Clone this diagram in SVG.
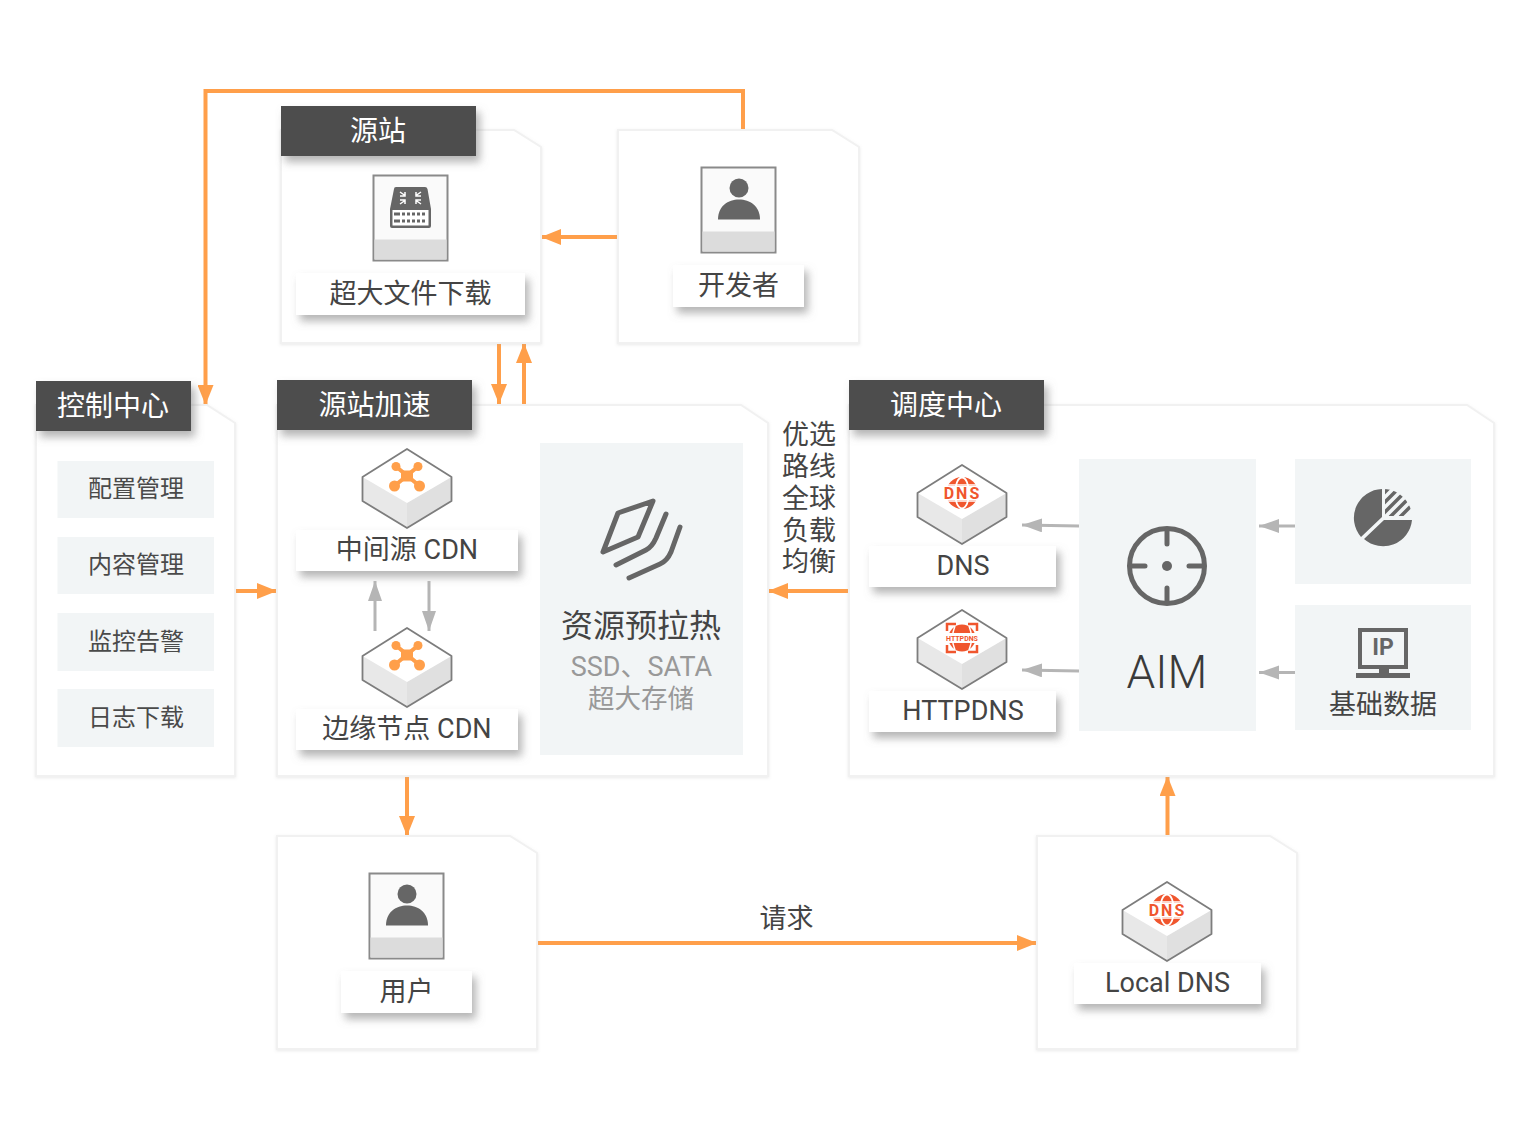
<svg xmlns="http://www.w3.org/2000/svg" width="1530" height="1140" viewBox="0 0 1530 1140">
<style>
text{font-family:Roboto,"Noto Sans CJK SC",sans-serif;text-anchor:middle;fill:#444;font-weight:400}
.panel{fill:#fff;stroke:#f1f1f1;stroke-width:2;filter:url(#ps)}
.head{fill:#4d4d4d;filter:url(#ls)}
.headt{fill:#fff;font-size:28px}
.lab{fill:#fff;filter:url(#ls)}
.t27{font-size:27px}
.t24{font-size:24px;fill:#4a4a4a}
.box{fill:#f2f5f6}
.o{fill:none;stroke:#ff9f4a;stroke-width:4;marker-end:url(#ao)}
.g{fill:none;stroke:#b5b5b5;stroke-width:3;marker-end:url(#ag)}
.ic{fill:none;stroke:#666;stroke-width:5;stroke-linecap:round;stroke-linejoin:round}
.fg{fill:#666}
.dns{fill:#f0562e}
</style>
<defs>
<filter id="ls" x="-20%" y="-40%" width="140%" height="190%"><feDropShadow dx="4" dy="6" stdDeviation="4" flood-color="#777" flood-opacity=".55"/></filter>
<filter id="ps" x="-5%" y="-5%" width="110%" height="110%"><feDropShadow dx="0" dy="1" stdDeviation="1.500" flood-color="#aaa" flood-opacity=".25"/></filter>
<marker id="ao" markerUnits="userSpaceOnUse" markerWidth="20" markerHeight="16" refX="20" refY="8" orient="auto"><path d="M0 0L20 8L0 16Z" fill="#ff9f4a"/></marker>
<marker id="ag" markerUnits="userSpaceOnUse" markerWidth="20" markerHeight="16" refX="20" refY="7" orient="auto"><path d="M0 0L20 7L0 14Z" fill="#b5b5b5"/></marker>
<g id="cube">
<path d="M0 0L44.500 28V52L0 79L-44.500 52V28Z" fill="#e8e8e8"/>
<path d="M0 54L44.500 28V52L0 79Z" fill="#e0e0e0"/>
<path d="M0 0L44.500 28L0 54L-44.500 28Z" fill="#fff"/>
<path d="M0 0L44.500 28V52L0 79L-44.500 52V28Z" fill="none" stroke="#7d7d7d" stroke-width="1.800" stroke-linejoin="round"/>
</g>
<g id="hub">
<path d="M-11 17.500L12.500 37M11 17.500L-12.500 37" stroke="#ff9f4a" stroke-width="4"/>
<rect x="-6" y="21.500" width="12" height="11" rx="2" fill="#ff9f4a"/>
<circle cx="-11" cy="17.500" r="4.500" fill="#ff9f4a"/><circle cx="11" cy="17.500" r="4.500" fill="#ff9f4a"/>
<circle cx="-12.500" cy="37" r="5.500" fill="#ff9f4a"/><circle cx="12.500" cy="37" r="5.500" fill="#ff9f4a"/>
</g>
<g id="globe">
<circle cy="28" r="16" class="dns"/>
<ellipse cy="28" rx="7" ry="15.500" fill="none" stroke="#fff" stroke-width="1.800"/>
<path d="M-15 20H15M-15 36H15" stroke="#fff" stroke-width="1.500"/>
<rect x="-18" y="21" width="36" height="14" fill="#fff"/>
</g>
<g id="doc">
<rect x=".5" y=".5" width="74" height="85" fill="#fafafa" stroke="#8a8a8a" stroke-width="2"/>
<rect x="1.500" y="64.500" width="72" height="20" fill="#dcdcdc"/>
</g>
<g id="person">
<circle cx="38" cy="21" r="9.500" class="fg"/>
<path d="M17 52.500C17 39 27 32.500 38 32.500C49 32.500 59 39 59 52.500Z" class="fg"/>
</g>
<clipPath id="hq"><path d="M1385 489A29 29 0 0 1 1412 516H1385Z"/></clipPath>
</defs>

<g id="connectors">
<path class="o" d="M743 130V91H205.500V405"/>
<path class="o" d="M618 237H541"/>
<path class="o" d="M499 343V404"/>
<path class="o" d="M524 405V343"/>
<path class="o" d="M235 591H277"/>
<path class="o" d="M849 591H768"/>
<path class="o" d="M407 776V836"/>
<path class="o" d="M537 943H1037"/>
<path class="o" d="M1167.500 836V776"/>
</g>

<g id="control-center">
<path class="panel" d="M36 405H207L235 423V776H36Z"/>
<rect class="box" x="57.500" y="461" width="156.500" height="57"/><text class="t24" x="136" y="497">配置管理</text>
<rect class="box" x="57.500" y="537" width="156.500" height="57"/><text class="t24" x="136" y="573">内容管理</text>
<rect class="box" x="57.500" y="613" width="156.500" height="58"/><text class="t24" x="136" y="650">监控告警</text>
<rect class="box" x="57.500" y="689" width="156.500" height="58"/><text class="t24" x="136" y="726">日志下载</text>
<rect class="head" x="36" y="381" width="155" height="50"/><text class="headt" x="113" y="416">控制中心</text>
</g>

<g id="origin">
<path class="panel" d="M281 130H514L541 147V343H281Z"/>
<rect class="head" x="281" y="106" width="195" height="50"/><text class="headt" x="378" y="141">源站</text>
<use href="#doc" x="373" y="175"/>
<path class="fg" d="M394 189Q394 187 396 187H425Q427 187 427.500 189L431 209V226Q431 228 429 228H392Q390 228 390 226V209Z"/>
<path d="M400 192L405 195.500M405 192V196H400M421 192L416 195.500M416 192V196H421M400 204L405 200.500M405 204V200H400M421 204L416 200.500M416 204V200H421" stroke="#fff" stroke-width="1.500" fill="none"/>
<rect x="392.500" y="210" width="36" height="15.500" fill="#fff"/>
<path d="M394 214H400M394 221H400" stroke="#666" stroke-width="3"/>
<path d="M402 214H427M402 221H427" stroke="#666" stroke-width="3" stroke-dasharray="3 2"/>
<rect class="lab" x="296" y="273" width="229" height="42"/><text class="t27" x="410.500" y="303">超大文件下载</text>
</g>

<g id="developer">
<path class="panel" d="M618 130H832L859 147V343H618Z"/>
<use href="#doc" x="701" y="167"/><use href="#person" x="701" y="167"/>
<rect class="lab" x="673" y="265" width="131" height="42"/><text class="t27" x="738.500" y="295">开发者</text>
</g>

<g id="origin-acceleration">
<path class="panel" d="M277 405H741L768 423V776H277Z"/>
<rect class="head" x="277" y="380" width="195" height="50"/><text class="headt" x="374.500" y="415">源站加速</text>
<g id="mid-cdn">
<use href="#cube" x="407" y="449"/><use href="#hub" x="407" y="449"/>
<rect class="lab" x="296" y="530" width="222" height="41"/><text class="t27" x="407" y="559">中间源 CDN</text>
</g>
<g id="edge-cdn">
<use href="#cube" x="407" y="628"/><use href="#hub" x="407" y="628"/>
<rect class="lab" x="296" y="709" width="222" height="41"/><text class="t27" x="407" y="738">边缘节点 CDN</text>
</g>
<path class="g" d="M375 631V581"/>
<path class="g" d="M429 581V631"/>
<g id="preheat">
<rect class="box" x="540" y="443" width="203" height="312"/>
<path class="ic" d="M653 501L618 513L603 552L638 537Z"/>
<path class="ic" d="M666 514L656 538Q652 547 646 550L616 565"/>
<path class="ic" d="M680 527L671 552Q667 561 660 564L629 578"/>
<text x="641" y="637" font-size="32">资源预拉热</text>
<text x="641.500" y="676" font-size="27" style="fill:#999">SSD、SATA</text>
<text x="641" y="708" font-size="26.500" style="fill:#999">超大存储</text>
</g>
</g>

<g id="balancing-label">
<text class="t27" x="809" y="444">优选</text>
<text class="t27" x="809" y="476">路线</text>
<text class="t27" x="809" y="508">全球</text>
<text class="t27" x="809" y="540">负载</text>
<text class="t27" x="809" y="571">均衡</text>
</g>

<g id="scheduling-center">
<path class="panel" d="M849 405H1467L1494 423V776H849Z"/>
<rect class="head" x="849" y="380" width="195" height="50"/><text class="headt" x="946" y="415">调度中心</text>
<g id="dns">
<use href="#cube" x="962" y="465"/><use href="#globe" x="962" y="465"/>
<text x="962.500" y="499" font-size="16" letter-spacing="2" style="fill:#f0562e;font-weight:700">DNS</text>
<rect class="lab" x="869" y="546" width="187" height="41"/><text class="t27" x="963" y="575">DNS</text>
</g>
<g id="httpdns">
<use href="#cube" x="962" y="610"/>
<circle cx="962" cy="638" r="13.500" class="dns"/>
<path d="M955 626Q950 638 955 650M969 626Q974 638 969 650" fill="none" stroke="#fff" stroke-width="1.500"/>
<rect x="945" y="633" width="34" height="10" fill="#fff"/>
<path d="M947 631V624H956M977 631V624H968M947 645V652H956M977 645V652H968" fill="none" stroke="#f0562e" stroke-width="2.500"/>
<text x="962" y="640.500" font-size="7" style="fill:#f0562e;font-weight:700">HTTPDNS</text>
<rect class="lab" x="869" y="691" width="187" height="41"/><text class="t27" x="963" y="720">HTTPDNS</text>
</g>
<g id="aim">
<rect class="box" x="1079" y="459" width="177" height="272"/>
<circle cx="1167" cy="566" r="37.500" fill="none" stroke="#666" stroke-width="5"/>
<path class="ic" d="M1167 530V544M1167 588V602M1131 566H1145M1189 566H1203"/>
<circle cx="1167" cy="566" r="5" class="fg"/>
<text x="1167" y="688" font-size="46" style="fill:#3a3a3a;font-weight:300">AIM</text>
</g>
<g id="stats">
<rect class="box" x="1295" y="459" width="176" height="125"/>
<path class="fg" d="M1382 489V517L1361 537A29 29 0 0 1 1382 489Z"/>
<path class="fg" d="M1412 520A29 29 0 0 1 1364 539L1384 520Z"/>
<g clip-path="url(#hq)"><path d="M1380 497L1391 486M1380 507L1401 486M1380 517L1411 486M1390 517L1421 486M1400 517L1431 486" stroke="#666" stroke-width="3.500"/></g>
</g>
<g id="base-data">
<rect class="box" x="1295" y="605" width="176" height="125"/>
<rect x="1360" y="630" width="46" height="37" fill="none" stroke="#666" stroke-width="4"/>
<text x="1383" y="655" font-size="23" style="fill:#666;font-weight:700">IP</text>
<path class="fg" d="M1379 667H1389V673H1410V678H1356V673H1379Z"/>
<text class="t27" x="1383" y="714">基础数据</text>
</g>
<path class="g" d="M1079 526L1022 525"/>
<path class="g" d="M1079 671L1022 670"/>
<path class="g" d="M1295 526H1259"/>
<path class="g" d="M1295 672.500H1259"/>
</g>

<g id="user">
<path class="panel" d="M277 836H510L537 853V1049H277Z"/>
<use href="#doc" x="369" y="873"/><use href="#person" x="369" y="873"/>
<rect class="lab" x="341" y="971" width="131" height="42"/><text class="t27" x="406.500" y="1001">用户</text>
</g>

<g id="local-dns">
<path class="panel" d="M1037 836H1270L1297 853V1049H1037Z"/>
<use href="#cube" x="1167" y="882"/><use href="#globe" x="1167" y="882"/>
<text x="1167.500" y="916" font-size="16" letter-spacing="2" style="fill:#f0562e;font-weight:700">DNS</text>
<rect class="lab" x="1074" y="963" width="187" height="41"/><text class="t27" x="1167.500" y="992">Local DNS</text>
</g>

<text id="request-label" class="t27" x="786.500" y="928">请求</text>
</svg>
